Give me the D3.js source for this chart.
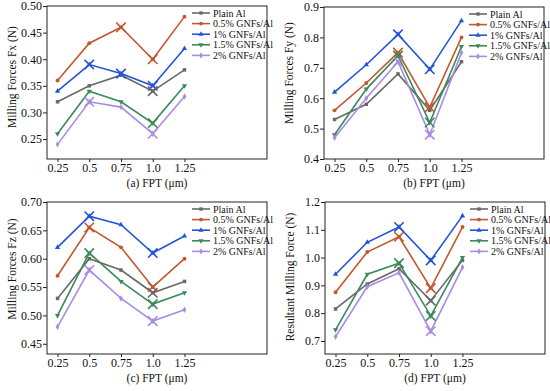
<!DOCTYPE html>
<html>
<head>
<meta charset="utf-8">
<script src="https://cdn.jsdelivr.net/npm/d3@7"></script>
<style>
  body { margin: 0; background: #fff; }
  text { font-family: "Liberation Serif", "Times New Roman", Times, serif; fill: #111; }
</style>
</head>
<body>
<div id="chart"></div>
<script>
// ---- data ----
var seriesNames = ["Plain Al", "0.5% GNFs/Al", "1% GNFs/Al", "1.5% GNFs/Al", "2% GNFs/Al"];
var fptValues = [0.25, 0.5, 0.75, 1.0, 1.25];
var fptLabels = ["0.25", "0.5", "0.75", "1.0", "1.25"];

// one row per series, in seriesNames order
var fxValues = [
	[0.32, 0.35, 0.37, 0.34, 0.38],
	[0.36, 0.43, 0.46, 0.40, 0.48],
	[0.34, 0.39, 0.373, 0.35, 0.42],
	[0.26, 0.34, 0.32, 0.28, 0.35],
	[0.24, 0.32, 0.31, 0.26, 0.33]
];
var fyValues = [
	[0.53, 0.58, 0.68, 0.56, 0.72],
	[0.56, 0.65, 0.75, 0.57, 0.80],
	[0.62, 0.71, 0.81, 0.695, 0.855],
	[0.48, 0.63, 0.74, 0.52, 0.77],
	[0.47, 0.60, 0.72, 0.48, 0.75]
];
var fzValues = [
	[0.53, 0.60, 0.58, 0.54, 0.56],
	[0.57, 0.655, 0.62, 0.55, 0.60],
	[0.62, 0.675, 0.66, 0.61, 0.64],
	[0.50, 0.61, 0.56, 0.52, 0.54],
	[0.48, 0.58, 0.53, 0.49, 0.51]
];
var frValues = [
	[0.815, 0.905, 0.96, 0.845, 0.99],
	[0.875, 1.02, 1.075, 0.89, 1.11],
	[0.94, 1.055, 1.11, 0.99, 1.15],
	[0.74, 0.94, 0.98, 0.79, 1.00],
	[0.715, 0.895, 0.945, 0.735, 0.965]
];

var fxTicks = [0.25, 0.30, 0.35, 0.40, 0.45, 0.50];
var fyTicks = [0.4, 0.5, 0.6, 0.7, 0.8, 0.9];
var fzTicks = [0.45, 0.50, 0.55, 0.60, 0.65, 0.70];
var frTicks = [0.7, 0.8, 0.9, 1.0, 1.1, 1.2];

// big "x" marks on some points: [series index, fpt index]
var fxCrosses = [[1, 2], [1, 3], [2, 1], [2, 2], [2, 3], [0, 3], [3, 3], [4, 1], [4, 3]];
var fyCrosses = [[2, 2], [2, 3], [1, 2], [3, 2], [4, 2], [1, 3], [3, 3], [4, 3]];
var fzCrosses = [[2, 1], [2, 3], [1, 1], [1, 3], [3, 1], [3, 3], [4, 1], [4, 3], [0, 3]];
var frCrosses = [[2, 2], [2, 3], [1, 2], [1, 3], [3, 2], [3, 3], [4, 3], [0, 3]];

// ---- styling ----
var colors = ["#686868", "#c2582f", "#2455d6", "#3a8a5a", "#a98ce4"];
var symbols = [d3.symbolSquare, d3.symbolCircle, d3.symbolTriangle, d3.symbolTriangle, d3.symbolDiamond];
var symbolRot = [0, 0, 0, 180, 0];

var panels = [
	{ left: 47, top: 6, h: 153, yDomain: [0.2125, 0.5], ticks: fxTicks, fmt: ".2f", data: fxValues, crosses: fxCrosses,
	  ytitle: "Milling Forces Fx (N)", ytitleY: 71, xtitle: "(a) FPT (μm)" },
	{ left: 324, top: 7, h: 152, yDomain: [0.4, 0.9], ticks: fyTicks, fmt: ".1f", data: fyValues, crosses: fyCrosses,
	  ytitle: "Milling Forces Fy (N)", ytitleY: 66, xtitle: "(b) FPT (μm)" },
	{ left: 47, top: 202, h: 152, yDomain: [0.432, 0.70], ticks: fzTicks, fmt: ".2f", data: fzValues, crosses: fzCrosses,
	  ytitle: "Milling Forces Fz (N)", ytitleY: 67, xtitle: "(c) FPT (μm)" },
	{ left: 325, top: 202, h: 152, yDomain: [0.653, 1.2], ticks: frTicks, fmt: ".1f", data: frValues, crosses: frCrosses,
	  ytitle: "Resultant Milling Force (N)", ytitleY: 75, xtitle: "(d) FPT (μm)" }
];

var width = 550, height = 391, plotW = 220;

var svg = d3.select("#chart").append("svg")
	.attr("width", width)
	.attr("height", height);

panels.forEach(function(p) {
	var g = svg.append("g").attr("transform", "translate(" + p.left + "," + p.top + ")");

	var x = d3.scaleLinear().domain([0.167, 1.9]).range([0, plotW]);
	var y = d3.scaleLinear().domain(p.yDomain).range([p.h, 0]);

	// axes
	var xAxis = d3.axisBottom(x).tickValues(fptValues)
		.tickFormat(function(d, i) { return fptLabels[i]; })
		.tickSizeInner(3).tickSizeOuter(0).tickPadding(1);
	var gx = g.append("g").attr("transform", "translate(0," + p.h + ")").call(xAxis);

	var yAxis = d3.axisLeft(y).tickValues(p.ticks).tickFormat(d3.format(p.fmt))
		.tickSizeInner(4).tickSizeOuter(0).tickPadding(1);
	var gy = g.append("g").call(yAxis);

	[gx, gy].forEach(function(a) {
		a.attr("font-family", null);
		a.select(".domain").remove();
		a.selectAll("line").attr("stroke", "#222");
		a.selectAll("text").style("font-size", "12px").attr("fill", "#111");
	});

	// frame
	g.append("rect")
		.attr("width", plotW).attr("height", p.h)
		.attr("fill", "none").attr("stroke", "#222").attr("stroke-width", 1);

	// titles
	g.append("text")
		.attr("x", plotW / 2).attr("y", p.h + 28)
		.attr("text-anchor", "middle")
		.style("font-size", "11.5px")
		.text(p.xtitle);
	g.append("text")
		.attr("transform", "translate(-35," + p.ytitleY + ") rotate(-90)")
		.attr("text-anchor", "middle")
		.attr("dominant-baseline", "central")
		.style("font-size", "11.5px")
		.text(p.ytitle);

	var line = d3.line()
		.x(function(d, i) { return x(fptValues[i]); })
		.y(function(d) { return y(d); });

	p.data.forEach(function(vals, s) {
		g.append("path")
			.datum(vals)
			.attr("d", line)
			.attr("fill", "none")
			.attr("stroke", colors[s])
			.attr("stroke-width", 1.6);
		g.selectAll(".pt" + s)
			.data(vals)
			.enter().append("path")
			.attr("class", "pt" + s)
			.attr("d", d3.symbol().type(symbols[s]).size(12))
			.attr("transform", function(d, i) {
				return "translate(" + x(fptValues[i]) + "," + y(d) + ") rotate(" + symbolRot[s] + ")";
			})
			.attr("fill", colors[s]);
	});

	// big crosses
	p.crosses.forEach(function(c) {
		var cx = x(fptValues[c[1]]), cy = y(p.data[c[0]][c[1]]);
		g.append("path")
			.attr("d", d3.symbol().type(d3.symbolX).size(60)())
			.attr("transform", "translate(" + cx + "," + cy + ")")
			.attr("fill", "none")
			.attr("stroke", colors[c[0]])
			.attr("stroke-width", 1.6);
	});

	// legend
	var lg = g.append("g").attr("transform", "translate(145,7)");
	seriesNames.forEach(function(name, s) {
		var row = lg.append("g").attr("transform", "translate(0," + (s * 10.6) + ")");
		row.append("line")
			.attr("x1", 0).attr("x2", 18)
			.attr("stroke", colors[s]).attr("stroke-width", 1.6);
		row.append("path")
			.attr("d", d3.symbol().type(symbols[s]).size(11))
			.attr("transform", "translate(9,0) rotate(" + symbolRot[s] + ")")
			.attr("fill", colors[s]);
		row.append("text")
			.attr("x", 21).attr("y", 0)
			.attr("dominant-baseline", "central")
			.style("font-size", "10px")
			.text(name);
	});
});
</script>
</body>
</html>
